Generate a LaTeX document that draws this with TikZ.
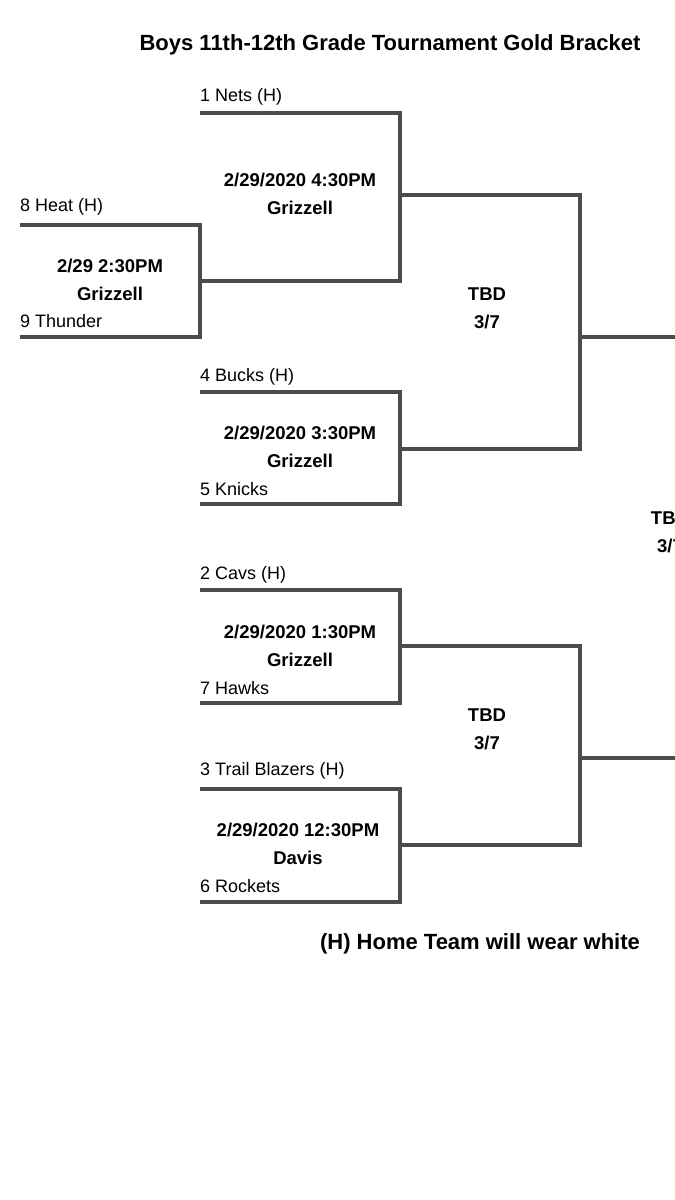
\documentclass[tikz,border=0pt]{standalone}
\usepackage{fontspec}
\setmainfont{Liberation Sans}
\usetikzlibrary{positioning}
\begin{document}
\begin{tikzpicture}[x=1pt,y=-1pt,
  line/.style={draw=black!70,line width=4pt},
  team/.style={anchor=west,inner sep=0pt,font=\fontsize{18}{20}\selectfont},
  game/.style={align=center,inner sep=0pt,font=\bfseries\fontsize{18.5}{28}\selectfont}]
\useasboundingbox (0,0) rectangle (675,1200);
\clip (0,0) rectangle (675,1200);
\node[font=\bfseries\fontsize{22}{24}\selectfont] (title) at (390,45) {Boys 11th-12th Grade Tournament Gold Bracket};
% first round
\node[team] (heat) at (20,207) {8 Heat (H)};
\node[team] (thunder) at (20,321) {9 Thunder};
\node[game] (g1) at (110,280) {2/29 2:30PM\\Grizzell};
\coordinate (h1) at (20,225); \coordinate (h2) at (200,225);
\coordinate (h3) at (200,337); \coordinate (h4) at (20,337);
\draw[line] (h1) -- (h2) -- (h3) -- (h4);
% quarter finals
\node[team] (nets) at (200,97) {1 Nets (H)};
\node[game] (g2) at (300,194) {2/29/2020 4:30PM\\Grizzell};
\coordinate (n1) at (200,113); \coordinate (n2) at (400,113);
\coordinate (n3) at (400,281); \coordinate (n4) at (200,281);
\draw[line] (n1) -- (n2) -- (n3) -- (n4);
\node[team] (bucks) at (200,377) {4 Bucks (H)};
\node[team] (knicks) at (200,489) {5 Knicks};
\node[game] (g3) at (300,447) {2/29/2020 3:30PM\\Grizzell};
\coordinate (b1) at (200,392); \coordinate (b2) at (400,392);
\coordinate (b3) at (400,504); \coordinate (b4) at (200,504);
\draw[line] (b1) -- (b2) -- (b3) -- (b4);
\node[team] (cavs) at (200,575) {2 Cavs (H)};
\node[team] (hawks) at (200,688) {7 Hawks};
\node[game] (g4) at (300,646) {2/29/2020 1:30PM\\Grizzell};
\coordinate (c1) at (200,590); \coordinate (c2) at (400,590);
\coordinate (c3) at (400,703); \coordinate (c4) at (200,703);
\draw[line] (c1) -- (c2) -- (c3) -- (c4);
\node[team] (blazers) at (200,771) {3 Trail Blazers (H)};
\node[team] (rockets) at (200,886) {6 Rockets};
\node[game] (g5) at (298,844) {2/29/2020 12:30PM\\Davis};
\coordinate (t1) at (200,789); \coordinate (t2) at (400,789);
\coordinate (t3) at (400,902); \coordinate (t4) at (200,902);
\draw[line] (t1) -- (t2) -- (t3) -- (t4);
% semi finals
\node[game] (s1) at (487,308) {TBD\\3/7};
\coordinate (u1) at (400,195); \coordinate (u2) at (580,195);
\coordinate (u3) at (580,449); \coordinate (u4) at (400,449);
\draw[line] (u1) -- (u2) -- (u3) -- (u4);
\node[game] (s2) at (487,729) {TBD\\3/7};
\coordinate (v1) at (400,646); \coordinate (v2) at (580,646);
\coordinate (v3) at (580,845); \coordinate (v4) at (400,845);
\draw[line] (v1) -- (v2) -- (v3) -- (v4);
% final
\coordinate (f1) at (580,337); \coordinate (f2) at (680,337);
\coordinate (f3) at (580,758); \coordinate (f4) at (680,758);
\draw[line] (f1) -- (f2);
\draw[line] (f3) -- (f4);
\node[game] (fin) at (670,532) {TBD\\3/7};
\node[font=\bfseries\fontsize{22}{24}\selectfont] (note) at (480,944) {(H) Home Team will wear white};
\end{tikzpicture}
\end{document}
